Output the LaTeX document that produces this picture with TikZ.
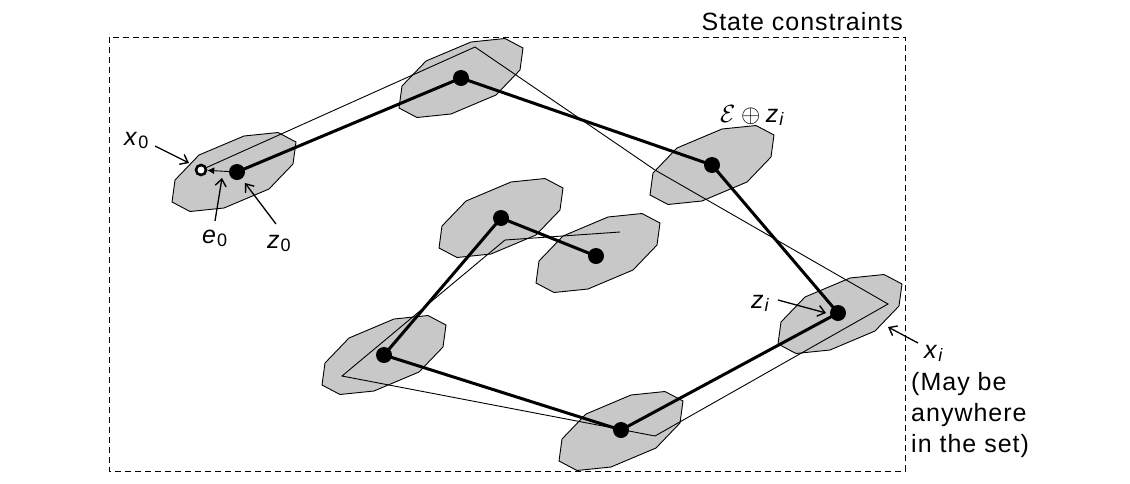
\documentclass[tikz,border=0pt]{standalone}
\usepackage{fontspec}
\setmainfont{Liberation Sans}[LetterSpace=4]
\usetikzlibrary{arrows.meta}
\definecolor{blobgray}{RGB}{200,200,200}
\newcommand\lsub[1]{\raisebox{-3pt}{\fontsize{18}{18}\selectfont #1}}
\newcommand\blobat[1]{\draw[blob,shift={(#1)}] (10,-36) -- (44,-39.5) -- (62,-30) -- (59,-8) -- (35,17) -- (-10,36) -- (-44,39.5) -- (-62,30) -- (-59,8) -- (-35,-17) -- cycle;}
\begin{document}
\begin{tikzpicture}[x=1pt,y=-1pt,
  blob/.style={draw=black, line width=0.9pt, fill=blobgray, line join=miter},
  xpath/.style={line width=0.9pt, line join=miter},
  zpath/.style={line width=3pt, line join=round},
  zdot/.style={circle, fill=black, inner sep=0pt, minimum size=16pt},
  xring/.style={circle, draw=black, line width=2.6pt, fill=white, inner sep=0pt, minimum size=10pt},
  callout/.style={-{Straight Barb[length=7pt,width=11pt,line width=1.4pt]}, line width=1.3pt},
  errarrow/.style={-{Latex[length=7pt,width=7pt]}, line width=0.9pt},
  lbl/.style={inner sep=0pt, font=\fontsize{25}{31}\selectfont},
  border/.style={dash pattern=on 6pt off 4pt, line width=0.9pt}]
\useasboundingbox (0,0) rectangle (1130,483);
% state constraint set
\draw[border] (109,37) rectangle (905,471);
\node[lbl, anchor=base east] (title) at (903,30) {State constraints};
% polygon centres
\coordinate (c0) at (234,172);
\coordinate (c1) at (461,78);
\coordinate (c2) at (712,165);
\coordinate (c3) at (840,314);
\coordinate (c4) at (621,431);
\coordinate (c5) at (384,355);
\coordinate (c6) at (501,218);
\coordinate (c7) at (598,253);
\foreach \c in {c0,c1,c2,c3,c4,c5,c6,c7} {\blobat{\c}}
% nominal trajectory points
\coordinate (p0) at (237,172);
\coordinate (p1) at (461,78);
\coordinate (p2) at (712,165);
\coordinate (p3) at (838,313);
\coordinate (p4) at (621,430);
\coordinate (p5) at (384,355);
\coordinate (p6) at (501,218);
\coordinate (p7) at (596,256);
% actual trajectory points
\coordinate (q0) at (201,170);
\coordinate (x1) at (475,47);
\coordinate (x2) at (655,170);
\coordinate (x3) at (888,304);
\coordinate (x4) at (655,436);
\coordinate (x5) at (342,376);
\coordinate (x6) at (505,240);
\coordinate (x7) at (620,232);
\draw[xpath] (q0) -- (x1) -- (x2) -- (x3) -- (x4) -- (x5) -- (x6) -- (x7);
\draw[zpath] (p0) -- (p1) -- (p2) -- (p3) -- (p4) -- (p5) -- (p6) -- (p7);
\foreach \i in {0,...,7} {\node[zdot] (z\i) at (p\i) {};}
\node[xring] (x0) at (q0) {};
\draw[errarrow] (z0) -- (x0);
% labels
\node[lbl, anchor=base west] (lx0) at (124,145) {\textit{x}\lsub{0}};
\node[lbl, anchor=base west] (le0) at (202,243) {\textit{e}\lsub{0}};
\node[lbl, anchor=base west] (lz0) at (267,248) {\textit{z}\lsub{0}};
\node[lbl, anchor=base west] (lset) at (720,122) {$\mathcal{E}\oplus{}$\textit{z}\lsub{\textit{i}}};
\node[lbl, anchor=base west] (lzi) at (751,308) {\textit{z}\lsub{\textit{i}}};
\node[lbl, anchor=base west] (lxi) at (924,358) {\textit{x}\lsub{\textit{i}}};
\node[lbl, anchor=north west, align=left] (note) at (911,372) {(May be\\anywhere\\in the set)};
% callout arrows
\coordinate (tx0) at (155,146); \coordinate (hx0) at (189,163);
\coordinate (te0) at (215,221); \coordinate (he0) at (222,178);
\coordinate (tz0) at (276,224); \coordinate (hz0) at (245,183);
\coordinate (tzi) at (778,300); \coordinate (hzi) at (826,313);
\coordinate (txi) at (918,343); \coordinate (hxi) at (888,327);
\draw[callout] (tx0) -- (hx0);
\draw[callout] (te0) -- (he0);
\draw[callout] (tz0) -- (hz0);
\draw[callout] (tzi) -- (hzi);
\draw[callout] (txi) -- (hxi);
\end{tikzpicture}
\end{document}
